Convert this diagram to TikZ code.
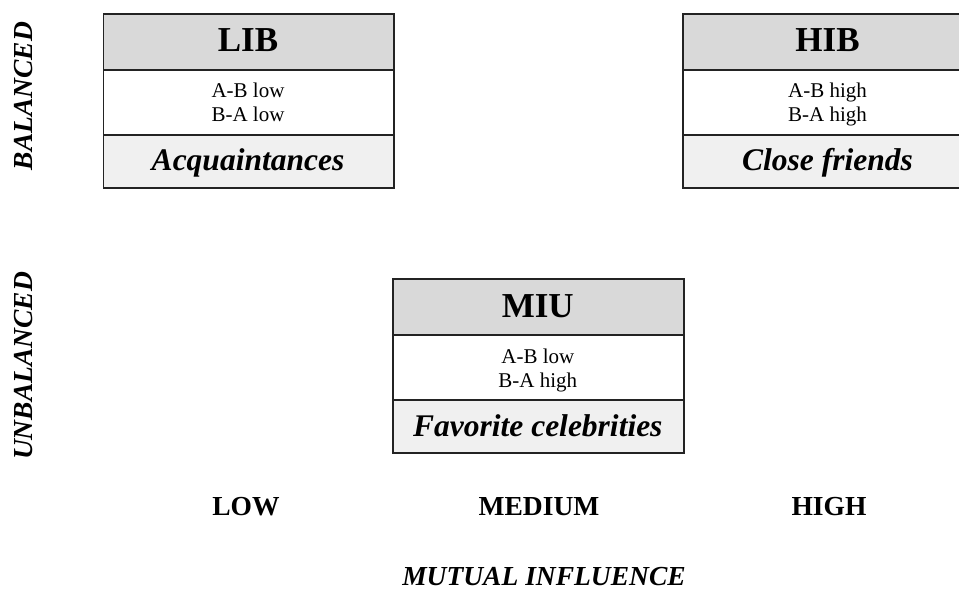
\documentclass[tikz,border=0pt]{standalone}
\usepackage{fontspec}
\setmainfont{Liberation Serif}
\definecolor{headgray}{RGB}{217,217,217}
\definecolor{footgray}{RGB}{240,240,240}
\definecolor{rule}{RGB}{35,35,35}
\begin{document}
\begin{tikzpicture}[x=1pt,y=-1pt,
  cell/.style={draw=rule, line width=1.6pt, minimum width=290.6pt,
    inner sep=0pt, anchor=north west},
  headcell/.style={cell, fill=headgray, minimum height=56pt},
  midcell/.style={cell, fill=white, minimum height=65pt},
  footcell/.style={cell, fill=footgray, minimum height=53pt},
  title/.style={anchor=base, inner sep=0pt, font=\fontsize{35}{40}\selectfont\bfseries},
  pair/.style={anchor=base, inner sep=0pt, font=\fontsize{21}{24}\selectfont},
  kind/.style={anchor=base, inner sep=0pt, font=\fontsize{31.5}{36}\selectfont\bfseries\itshape},
  level/.style={anchor=base, inner sep=0pt, font=\fontsize{27.5}{33}\selectfont\bfseries},
  axis/.style={inner sep=0pt, font=\fontsize{27.5}{33}\selectfont\bfseries\itshape},
]
\useasboundingbox (0,0) rectangle (959,599);
\clip (0,0) rectangle (959,599);

% low influence, balanced
\node[headcell] (libhead) at (102.7,13) {};
\node[midcell]  (libmid)  at (102.7,69) {};
\node[footcell] (libfoot) at (102.7,134) {};
\node[title] (libtitle) at (248,52) {LIB};
\node[pair]  (libab)    at (248,98) {A-B low};
\node[pair]  (libba)    at (248,122) {B-A low};
\node[kind]  (libkind)  at (248,171) {Acquaintances};

% high influence, balanced
\node[headcell] (hibhead) at (682,13) {};
\node[midcell]  (hibmid)  at (682,69) {};
\node[footcell] (hibfoot) at (682,134) {};
\node[title] (hibtitle) at (827.5,52) {HIB};
\node[pair]  (hibab)    at (827.5,98) {A-B high};
\node[pair]  (hibba)    at (827.5,122) {B-A high};
\node[kind]  (hibkind)  at (827.5,171) {Close friends};

% medium influence, unbalanced
\node[headcell] (miuhead) at (392.3,278) {};
\node[midcell]  (miumid)  at (392.3,334) {};
\node[footcell] (miufoot) at (392.3,399) {};
\node[title] (miutitle) at (537.8,317) {MIU};
\node[pair]  (miuab)    at (537.8,363) {A-B low};
\node[pair]  (miuba)    at (537.8,387) {B-A high};
\node[kind]  (miukind)  at (537.8,436) {Favorite celebrities};

% vertical axis
\node[axis, rotate=90] (bal)   at (24,96)  {BALANCED};
\node[axis, rotate=90] (unbal) at (24,366) {UNBALANCED};

% horizontal axis
\node[level] (low)  at (246,515) {LOW};
\node[level] (med)  at (539,515) {MEDIUM};
\node[level] (high) at (829,515) {HIGH};
\node[level, font=\fontsize{27.5}{33}\selectfont\bfseries\itshape] (mutual) at (544,585) {MUTUAL INFLUENCE};
\end{tikzpicture}
\end{document}
